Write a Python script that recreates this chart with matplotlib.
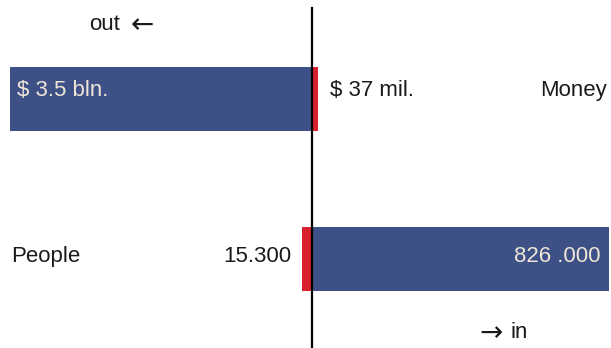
import matplotlib
matplotlib.use("Agg")
import matplotlib.pyplot as plt

plt.rcParams["font.family"] = ["Liberation Sans", "DejaVu Sans"]

# rows, top to bottom
categories = ["Money", "People"]
out_labels = ["$ 3.5 bln.", "15.300"]
in_labels = ["$ 37 mil.", "826 .000"]
# bar lengths as drawn (relative scale)
out_len = [1.007, 0.033]
in_len = [0.020, 0.990]

BLUE = "#3d5186"
RED = "#d7202e"
LIGHT = "#efe6d8"
INK = "#1a1a1a"

fig = plt.figure(figsize=(6.11, 3.48), dpi=100)
ax = fig.add_axes([0, 0, 1, 1])
ax.set_xlim(-1.04, 0.997)
ax.set_ylim(1.556, -0.619)
ax.axis("off")

ys = list(range(len(categories)))
h = 0.4
for y, o, i in zip(ys, out_len, in_len):
    big_out = o > i
    ax.barh(y, -o, height=h, color=BLUE if big_out else RED, lw=0)
    ax.barh(y, i, height=h, color=RED if big_out else BLUE, lw=0)

ax.axvline(0, ymin=0, ymax=1 - 8 / 348, color="black", lw=1.6, zorder=5)

fs = 16
# Money row
y0 = ys[0] - 0.055
ax.text(-out_len[0] + 0.023, y0, out_labels[0], color=LIGHT, fontsize=fs, va="center", ha="left")
ax.text(0.06, y0, in_labels[0], color=INK, fontsize=fs, va="center", ha="left")
ax.text(0.984, y0, categories[0], color=INK, fontsize=fs, va="center", ha="right")
# People row
y1 = ys[1] - 0.018
ax.text(-1.003, y1, categories[1], color=INK, fontsize=fs, va="center", ha="left")
ax.text(-out_len[1] - 0.037, y1, out_labels[1], color=INK, fontsize=fs, va="center", ha="right")
ax.text(in_len[1] - 0.027, y1, in_labels[1], color=LIGHT, fontsize=fs, va="center", ha="right")

# direction hints
ax.text(-0.64, -0.465, "out", fontsize=fs, va="center", ha="right", color=INK)
ax.text(-0.565, -0.46, "\u2190", fontsize=20, va="center", ha="center", color=INK,
        family="DejaVu Sans")
ax.text(0.597, 1.464, "\u2192", fontsize=20, va="center", ha="center", color=INK,
        family="DejaVu Sans")
ax.text(0.663, 1.459, "in", fontsize=fs, va="center", ha="left", color=INK)

fig.savefig("out.png", dpi=100)
